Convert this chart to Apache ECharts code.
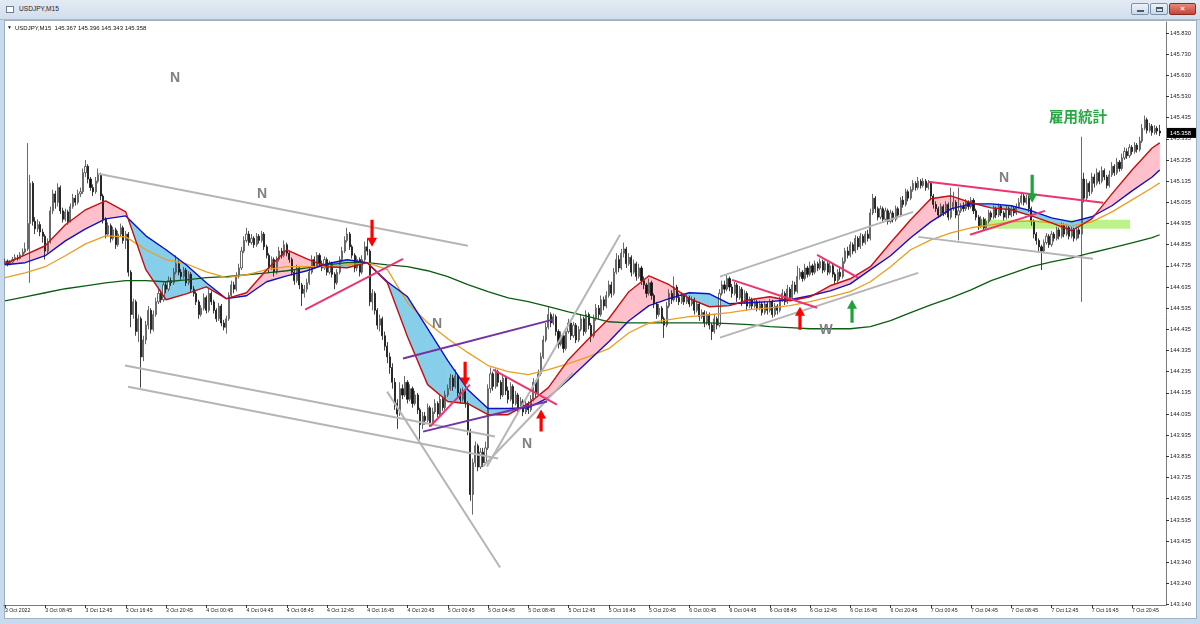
<!DOCTYPE html>
<html><head><meta charset="utf-8">
<script src="https://cdn.jsdelivr.net/npm/echarts@6/dist/echarts.min.js"></script>
<style>
html,body{margin:0;padding:0;}
body{width:1200px;height:624px;overflow:hidden;background:#c7daee;position:relative;font-family:"Liberation Sans",Arial,sans-serif;}
#title{position:absolute;left:0;top:0;width:1200px;height:20px;background:linear-gradient(#e3ebf5,#d2deeb);border-bottom:1px solid #a9b8ca;box-sizing:border-box;}
#title .ico{position:absolute;left:6px;top:6px;width:8px;height:7px;border:1px solid #6a7d95;background:#fff;box-sizing:border-box;}
#title .txt{position:absolute;left:19px;top:5px;font-size:6.6px;color:#1b2430;}
.btn{position:absolute;top:3px;height:12px;border:1px solid #8092aa;border-radius:2px;box-sizing:border-box;background:linear-gradient(#eef3f9,#cdd9e7);}
#panel{position:absolute;left:4px;top:20px;width:1193px;height:599px;background:#fff;border:1px solid #9fb0c4;box-sizing:border-box;}
#chart{position:absolute;left:0;top:0;width:1200px;height:624px;}
</style></head>
<body>
<div id="title"><div class="ico"></div><div class="txt">USDJPY,M15</div>
<div class="btn" style="left:1131px;width:18px"><div style="position:absolute;left:5px;top:6px;width:7px;height:2px;background:#4a5a70"></div></div>
<div class="btn" style="left:1150px;width:18px"><div style="position:absolute;left:5px;top:3px;width:7px;height:5px;border:1px solid #4a5a70;border-top-width:2px;box-sizing:border-box"></div></div>
<div class="btn" style="left:1169px;width:27px;background:linear-gradient(#e48a7a,#c8453a);border-color:#8d2a22;color:#fff;font-size:8px;text-align:center;line-height:10px;font-weight:bold">×</div>
</div>
<div id="panel"></div>
<div id="chart"></div>
<script>
// ---------- DATA ----------
const symbolName = 'USDJPY,M15';
const xTickLabels = ["3 Oct 2022","3 Oct 08:45","3 Oct 12:45","3 Oct 16:45","3 Oct 20:45","4 Oct 00:45","4 Oct 04:45","4 Oct 08:45","4 Oct 12:45","4 Oct 16:45","4 Oct 20:45","5 Oct 00:45","5 Oct 04:45","5 Oct 08:45","5 Oct 12:45","5 Oct 16:45","5 Oct 20:45","6 Oct 00:45","6 Oct 04:45","6 Oct 08:45","6 Oct 12:45","6 Oct 16:45","6 Oct 20:45","7 Oct 00:45","7 Oct 04:45","7 Oct 08:45","7 Oct 12:45","7 Oct 16:45","7 Oct 20:45"];
const yTickLabels = ["145.830","145.730","145.630","145.530","145.435","145.335","145.235","145.135","145.035","144.935","144.835","144.735","144.635","144.535","144.435","144.335","144.235","144.135","144.035","143.935","143.835","143.735","143.635","143.535","143.435","143.340","143.240","143.140"];

// M15 candles [open, close, low, high], first bar 3 Oct 04:45
const bars = [
[144.745,144.752,144.735,144.765],[144.752,144.740,144.728,144.760],[144.740,144.748,144.732,144.758],[144.748,144.760,144.741,144.772],[144.760,144.770,144.752,144.785],[144.770,144.765,144.755,144.782],[144.765,144.782,144.760,144.795],[144.782,144.795,144.775,144.812],
[144.795,144.810,144.788,144.840],[144.810,144.930,144.800,145.310],[144.930,145.120,144.650,145.160],[145.120,144.940,144.920,145.130],[144.940,144.905,144.880,144.960],[144.905,144.925,144.890,144.950],[144.925,144.890,144.870,144.940],[144.890,144.870,144.840,144.905],
[144.870,144.800,144.760,144.880],[144.800,144.845,144.790,144.860],[144.845,144.990,144.835,145.010],[144.990,145.070,144.975,145.090],[145.070,145.030,145.000,145.085],[145.030,145.100,145.010,145.120],[145.100,144.990,144.975,145.110],[144.990,144.950,144.935,145.005],
[144.950,144.985,144.940,145.000],[144.985,144.940,144.925,144.995],[144.940,145.010,144.935,145.025],[145.010,145.050,145.000,145.070],[145.050,145.030,145.015,145.065],[145.030,145.070,145.020,145.090],[145.070,145.080,145.055,145.100],[145.080,145.170,145.070,145.190],
[145.170,145.200,145.150,145.230],[145.200,145.140,145.120,145.210],[145.140,145.100,145.085,145.150],[145.100,145.080,145.060,145.115],[145.080,145.130,145.070,145.150],[145.130,145.160,145.120,145.190],[145.160,145.060,145.040,145.170],[145.060,144.950,144.930,145.070],
[144.950,144.880,144.860,144.960],[144.880,144.920,144.870,144.935],[144.920,144.860,144.840,144.930],[144.860,144.900,144.850,144.915],[144.900,144.830,144.810,144.910],[144.830,144.880,144.820,144.895],[144.880,144.910,144.870,144.930],[144.910,144.850,144.835,144.920],
[144.850,144.880,144.810,144.895],[144.880,144.700,144.680,144.890],[144.700,144.500,144.440,144.710],[144.500,144.560,144.480,144.575],[144.560,144.420,144.400,144.570],[144.420,144.480,144.370,144.500],[144.480,144.300,144.155,144.490],[144.300,144.380,144.280,144.400],
[144.380,144.450,144.360,144.470],[144.450,144.520,144.430,144.540],[144.520,144.430,144.410,144.530],[144.430,144.500,144.420,144.520],[144.500,144.560,144.490,144.580],[144.560,144.600,144.550,144.620],[144.600,144.570,144.555,144.615],[144.570,144.640,144.560,144.655],
[144.640,144.620,144.600,144.655],[144.620,144.660,144.610,144.680],[144.660,144.650,144.635,144.675],[144.650,144.700,144.640,144.720],[144.700,144.740,144.690,144.780],[144.740,144.700,144.685,144.755],[144.700,144.680,144.665,144.715],[144.680,144.710,144.670,144.725],
[144.710,144.650,144.635,144.720],[144.650,144.690,144.640,144.705],[144.690,144.620,144.605,144.700],[144.620,144.600,144.585,144.635],[144.600,144.560,144.545,144.610],[144.560,144.500,144.480,144.570],[144.500,144.530,144.490,144.545],[144.530,144.580,144.520,144.600],
[144.580,144.520,144.505,144.590],[144.520,144.600,144.510,144.620],[144.600,144.560,144.545,144.610],[144.560,144.520,144.505,144.570],[144.520,144.480,144.465,144.530],[144.480,144.540,144.470,144.555],[144.540,144.460,144.445,144.550],[144.460,144.440,144.425,144.475],
[144.440,144.480,144.410,144.495],[144.480,144.590,144.470,144.605],[144.590,144.640,144.580,144.660],[144.640,144.620,144.600,144.655],[144.620,144.680,144.610,144.700],[144.680,144.720,144.670,144.740],[144.720,144.800,144.710,144.820],[144.800,144.850,144.790,144.870],
[144.850,144.880,144.840,144.910],[144.880,144.840,144.825,144.895],[144.840,144.860,144.830,144.880],[144.860,144.830,144.815,144.870],[144.830,144.870,144.820,144.885],[144.870,144.850,144.835,144.880],[144.850,144.880,144.840,144.895],[144.880,144.820,144.805,144.890],
[144.820,144.780,144.765,144.830],[144.780,144.720,144.700,144.790],[144.720,144.760,144.710,144.775],[144.760,144.700,144.680,144.770],[144.700,144.760,144.690,144.775],[144.760,144.800,144.750,144.820],[144.800,144.780,144.765,144.815],[144.780,144.830,144.770,144.850],
[144.830,144.790,144.775,144.840],[144.790,144.760,144.745,144.800],[144.760,144.700,144.685,144.770],[144.700,144.660,144.640,144.710],[144.660,144.720,144.650,144.735],[144.720,144.640,144.620,144.730],[144.640,144.600,144.540,144.650],[144.600,144.620,144.580,144.640],
[144.620,144.650,144.605,144.670],[144.650,144.700,144.640,144.720],[144.700,144.760,144.690,144.780],[144.760,144.730,144.715,144.775],[144.730,144.780,144.720,144.795],[144.780,144.740,144.725,144.790],[144.740,144.720,144.705,144.755],[144.720,144.760,144.710,144.775],
[144.760,144.700,144.685,144.770],[144.700,144.740,144.690,144.755],[144.740,144.690,144.675,144.750],[144.690,144.650,144.620,144.700],[144.650,144.700,144.640,144.715],[144.700,144.760,144.690,144.775],[144.760,144.800,144.750,144.820],[144.800,144.850,144.790,144.870],
[144.850,144.880,144.840,144.910],[144.880,144.820,144.805,144.890],[144.820,144.780,144.765,144.830],[144.780,144.720,144.700,144.790],[144.720,144.760,144.705,144.775],[144.760,144.700,144.680,144.770],[144.700,144.760,144.690,144.780],[144.760,144.820,144.750,144.845],
[144.820,144.800,144.780,144.860],[144.800,144.560,144.540,144.810],[144.560,144.600,144.520,144.620],[144.600,144.520,144.500,144.610],[144.520,144.450,144.430,144.530],[144.450,144.480,144.420,144.500],[144.480,144.400,144.380,144.490],[144.400,144.350,144.330,144.420],
[144.350,144.300,144.270,144.370],[144.300,144.250,144.220,144.320],[144.250,144.180,144.150,144.270],[144.180,144.080,144.050,144.200],[144.080,144.030,143.960,144.100],[144.030,144.150,144.020,144.180],[144.150,144.120,144.100,144.170],[144.120,144.180,144.110,144.210],
[144.180,144.100,144.080,144.190],[144.100,144.150,144.090,144.170],[144.150,144.080,144.060,144.160],[144.080,144.120,144.070,144.140],[144.120,144.050,144.030,144.130],[144.050,143.980,143.910,144.060],[143.980,144.020,143.960,144.040],[144.020,144.000,143.980,144.040],
[144.000,144.060,143.990,144.080],[144.060,143.990,143.970,144.070],[143.990,144.040,143.980,144.060],[144.040,144.080,144.030,144.100],[144.080,144.030,144.015,144.090],[144.030,144.100,144.020,144.120],[144.100,144.060,144.045,144.110],[144.060,144.120,144.050,144.140],
[144.120,144.150,144.110,144.170],[144.150,144.200,144.140,144.220],[144.200,144.160,144.140,144.215],[144.160,144.210,144.150,144.240],[144.210,144.130,144.110,144.220],[144.130,144.100,144.080,144.150],[144.100,144.140,144.090,144.155],[144.140,144.080,144.060,144.150],
[144.080,143.950,143.930,144.090],[143.950,143.650,143.620,143.960],[143.650,143.800,143.555,143.820],[143.800,143.880,143.780,143.900],[143.880,143.780,143.760,143.890],[143.780,143.850,143.770,143.870],[143.850,143.800,143.780,143.870],[143.800,143.870,143.790,143.900],
[143.870,144.150,143.860,144.170],[144.150,144.220,144.130,144.250],[144.220,144.160,144.140,144.230],[144.160,144.230,144.150,144.245],[144.230,144.180,144.160,144.240],[144.180,144.120,144.100,144.190],[144.120,144.200,144.110,144.215],[144.200,144.140,144.120,144.210],
[144.140,144.100,144.080,144.160],[144.100,144.160,144.090,144.180],[144.160,144.080,144.060,144.170],[144.080,144.120,144.070,144.140],[144.120,144.060,144.040,144.130],[144.060,144.090,144.050,144.110],[144.090,144.040,144.020,144.100],[144.040,144.080,144.030,144.095],
[144.080,144.050,144.030,144.090],[144.050,144.100,144.040,144.120],[144.100,144.180,144.090,144.200],[144.180,144.130,144.110,144.190],[144.130,144.220,144.120,144.240],[144.220,144.300,144.210,144.320],[144.300,144.380,144.290,144.400],[144.380,144.440,144.370,144.460],
[144.440,144.500,144.430,144.540],[144.500,144.460,144.440,144.510],[144.460,144.490,144.450,144.505],[144.490,144.420,144.400,144.500],[144.420,144.360,144.340,144.430],[144.360,144.400,144.350,144.420],[144.400,144.340,144.320,144.410],[144.340,144.420,144.330,144.435],
[144.420,144.460,144.410,144.480],[144.460,144.400,144.380,144.470],[144.400,144.450,144.390,144.465],[144.450,144.380,144.365,144.460],[144.380,144.430,144.370,144.445],[144.430,144.480,144.420,144.500],[144.480,144.420,144.400,144.490],[144.420,144.500,144.410,144.520],
[144.500,144.450,144.430,144.510],[144.450,144.400,144.370,144.460],[144.400,144.480,144.390,144.500],[144.480,144.530,144.470,144.550],[144.530,144.500,144.480,144.545],[144.500,144.570,144.490,144.590],[144.570,144.540,144.520,144.585],[144.540,144.590,144.530,144.610],
[144.590,144.640,144.580,144.660],[144.640,144.600,144.580,144.655],[144.600,144.700,144.590,144.720],[144.700,144.760,144.690,144.790],[144.760,144.720,144.700,144.780],[144.720,144.790,144.710,144.810],[144.790,144.810,144.770,144.840],[144.810,144.740,144.720,144.820],
[144.740,144.770,144.730,144.790],[144.770,144.700,144.680,144.780],[144.700,144.740,144.690,144.760],[144.740,144.680,144.660,144.750],[144.680,144.720,144.670,144.740],[144.720,144.660,144.640,144.730],[144.660,144.640,144.620,144.680],[144.640,144.600,144.580,144.650],
[144.600,144.650,144.590,144.670],[144.650,144.590,144.570,144.660],[144.590,144.550,144.530,144.600],[144.550,144.500,144.480,144.560],[144.500,144.530,144.490,144.550],[144.530,144.480,144.460,144.540],[144.480,144.450,144.390,144.490],[144.450,144.540,144.440,144.560],
[144.540,144.600,144.530,144.620],[144.600,144.570,144.550,144.615],[144.570,144.630,144.560,144.680],[144.630,144.580,144.560,144.640],[144.580,144.560,144.545,144.600],[144.560,144.590,144.550,144.605],[144.590,144.560,144.545,144.600],[144.560,144.580,144.550,144.595],
[144.580,144.550,144.535,144.590],[144.550,144.570,144.540,144.585],[144.570,144.520,144.500,144.580],[144.520,144.550,144.510,144.565],[144.550,144.490,144.470,144.560],[144.490,144.510,144.480,144.525],[144.510,144.460,144.440,144.520],[144.460,144.500,144.450,144.515],
[144.500,144.450,144.430,144.510],[144.450,144.420,144.380,144.460],[144.420,144.480,144.410,144.500],[144.480,144.450,144.430,144.490],[144.450,144.600,144.440,144.620],[144.600,144.640,144.590,144.660],[144.640,144.620,144.600,144.660],[144.620,144.670,144.610,144.690],
[144.670,144.630,144.610,144.680],[144.630,144.600,144.580,144.645],[144.600,144.640,144.590,144.655],[144.640,144.580,144.560,144.650],[144.580,144.620,144.570,144.635],[144.620,144.560,144.540,144.630],[144.560,144.600,144.550,144.615],[144.600,144.540,144.520,144.610],
[144.540,144.570,144.530,144.585],[144.570,144.540,144.525,144.580],[144.540,144.560,144.530,144.575],[144.560,144.530,144.515,144.570],[144.530,144.550,144.520,144.565],[144.550,144.510,144.495,144.560],[144.510,144.550,144.500,144.565],[144.550,144.520,144.500,144.560],
[144.520,144.560,144.510,144.575],[144.560,144.500,144.485,144.570],[144.500,144.540,144.490,144.555],[144.540,144.520,144.500,144.550],[144.520,144.570,144.510,144.585],[144.570,144.600,144.560,144.620],[144.600,144.560,144.545,144.610],[144.560,144.620,144.550,144.640],
[144.620,144.580,144.565,144.630],[144.580,144.640,144.570,144.660],[144.640,144.610,144.595,144.655],[144.610,144.680,144.600,144.730],[144.680,144.700,144.665,144.720],[144.700,144.670,144.655,144.710],[144.670,144.720,144.660,144.740],[144.720,144.690,144.675,144.730],
[144.690,144.730,144.680,144.750],[144.730,144.700,144.685,144.740],[144.700,144.740,144.690,144.755],[144.740,144.720,144.705,144.750],[144.720,144.750,144.710,144.765],[144.750,144.710,144.695,144.760],[144.710,144.740,144.700,144.755],[144.740,144.700,144.685,144.750],
[144.700,144.730,144.690,144.745],[144.730,144.690,144.675,144.740],[144.690,144.660,144.645,144.700],[144.660,144.700,144.650,144.715],[144.700,144.680,144.665,144.720],[144.680,144.750,144.670,144.770],[144.750,144.800,144.740,144.815],[144.800,144.780,144.765,144.820],
[144.780,144.830,144.770,144.845],[144.830,144.800,144.785,144.840],[144.800,144.860,144.790,144.875],[144.860,144.820,144.805,144.870],[144.820,144.870,144.810,144.885],[144.870,144.840,144.825,144.880],[144.840,144.880,144.830,144.895],[144.880,144.860,144.845,144.900],
[144.860,144.980,144.850,145.000],[144.980,145.050,144.970,145.070],[145.050,145.000,144.980,145.060],[145.000,144.960,144.945,145.010],[144.960,145.000,144.950,145.015],[145.000,144.950,144.935,145.010],[144.950,144.990,144.940,145.005],[144.990,144.940,144.925,145.000],
[144.940,144.980,144.930,144.995],[144.980,144.950,144.935,144.990],[144.950,145.000,144.940,145.015],[145.000,144.970,144.955,145.010],[144.970,145.040,144.960,145.055],[145.040,145.020,145.005,145.060],[145.020,145.080,145.010,145.095],[145.080,145.050,145.035,145.090],
[145.050,145.090,145.040,145.105],[145.090,145.120,145.080,145.135],[145.120,145.100,145.085,145.130],[145.100,145.130,145.090,145.150],[145.130,145.110,145.095,145.140],[145.110,145.130,145.100,145.145],[145.130,145.100,145.085,145.140],[145.100,145.120,145.090,145.135],
[145.120,145.060,145.040,145.130],[145.060,145.020,145.000,145.070],[145.020,145.000,144.985,145.035],[145.000,144.970,144.955,145.010],[144.970,145.010,144.960,145.025],[145.010,144.980,144.965,145.020],[144.980,145.020,144.970,145.035],[145.020,144.960,144.945,145.030],
[144.960,145.000,144.950,145.100],[145.000,145.030,144.990,145.080],[145.030,144.970,144.955,145.040],[144.970,144.990,144.850,145.100],[144.990,145.010,144.980,145.025],[145.010,145.000,144.985,145.030],[145.000,145.030,144.990,145.045],[145.030,145.010,144.995,145.040],
[145.010,145.040,145.000,145.055],[145.040,144.990,144.975,145.050],[144.990,144.960,144.945,145.000],[144.960,144.920,144.900,144.970],[144.920,144.950,144.910,144.965],[144.950,144.910,144.895,144.960],[144.910,144.940,144.900,144.955],[144.940,144.980,144.930,144.995],
[144.980,144.960,144.945,144.990],[144.960,145.000,144.950,145.015],[145.000,144.970,144.955,145.010],[144.970,145.010,144.960,145.025],[145.010,144.980,144.965,145.020],[144.980,144.960,144.945,144.990],[144.960,145.000,144.950,145.015],[145.000,144.970,144.955,145.010],
[144.970,145.000,144.960,145.015],[145.000,144.980,144.965,145.010],[144.980,145.010,144.970,145.025],[145.010,145.030,145.000,145.050],[145.030,145.060,145.020,145.080],[145.060,145.030,145.015,145.070],[145.030,145.050,145.020,145.065],[145.050,145.000,144.985,145.060],
[145.000,144.940,144.920,145.010],[144.940,144.880,144.860,144.950],[144.880,144.850,144.830,144.890],[144.850,144.820,144.800,144.860],[144.820,144.800,144.710,144.830],[144.800,144.840,144.790,144.855],[144.840,144.870,144.830,144.885],[144.870,144.830,144.815,144.880],
[144.830,144.880,144.820,144.895],[144.880,144.860,144.845,144.890],[144.860,144.900,144.850,144.915],[144.900,144.870,144.855,144.910],[144.870,144.920,144.860,144.935],[144.920,144.880,144.865,144.930],[144.880,144.910,144.870,144.925],[144.910,144.870,144.855,144.920],
[144.870,144.900,144.860,144.915],[144.900,144.860,144.845,144.910],[144.860,144.900,144.850,144.915],[144.900,144.880,144.860,144.910],[144.880,145.140,144.560,145.340],[145.140,145.050,145.030,145.170],[145.050,145.120,145.040,145.140],[145.120,145.080,145.060,145.130],
[145.080,145.150,145.070,145.170],[145.150,145.120,145.100,145.165],[145.120,145.170,145.110,145.190],[145.170,145.130,145.115,145.180],[145.130,145.180,145.120,145.200],[145.180,145.150,145.135,145.190],[145.150,145.110,145.095,145.160],[145.110,145.160,145.100,145.180],
[145.160,145.200,145.150,145.220],[145.200,145.170,145.155,145.210],[145.170,145.220,145.160,145.240],[145.220,145.190,145.175,145.230],[145.190,145.240,145.180,145.260],[145.240,145.270,145.230,145.290],[145.270,145.250,145.235,145.285],[145.250,145.290,145.240,145.305],
[145.290,145.270,145.255,145.300],[145.270,145.300,145.260,145.315],[145.300,145.280,145.265,145.310],[145.280,145.320,145.270,145.340],[145.320,145.380,145.310,145.400],[145.380,145.420,145.370,145.440],[145.420,145.370,145.355,145.430],[145.370,145.390,145.360,145.405],
[145.390,145.360,145.345,145.400],[145.360,145.380,145.350,145.395],[145.380,145.367,145.350,145.390],[145.367,145.358,145.343,145.396]
];

const maBars = [0,8,16,24,32,40,48,56,64,72,80,88,96,104,112,120,128,136,144,152,160,168,176,184,192,200,208,216,224,232,240,248,256,264,272,280,288,296,304,312,320,328,336,344,352,360,368,376,384,392,400,408,416,424,432,440,448,456,459];
const maRed = [144.740,144.782,144.825,144.924,144.995,145.037,144.985,144.712,144.570,144.598,144.631,144.575,144.603,144.712,144.806,144.763,144.726,144.721,144.745,144.650,144.395,144.169,144.089,144.079,144.027,144.027,144.079,144.155,144.287,144.386,144.480,144.608,144.683,144.641,144.575,144.537,144.542,144.570,144.584,144.565,144.584,144.636,144.669,144.726,144.839,144.948,145.047,145.061,145.028,145.004,144.995,144.966,144.933,144.896,144.952,145.070,145.183,145.287,145.311];
const maBlue = [144.735,144.745,144.778,144.848,144.905,144.952,144.966,144.872,144.806,144.735,144.650,144.575,144.589,144.655,144.683,144.707,144.740,144.759,144.745,144.655,144.584,144.433,144.282,144.145,144.056,144.056,144.060,144.108,144.192,144.282,144.372,144.471,144.542,144.575,144.603,144.598,144.551,144.556,144.561,144.570,144.589,144.612,144.645,144.712,144.778,144.863,144.938,144.999,145.023,145.023,145.014,144.990,144.957,144.938,144.962,145.014,145.084,145.150,145.183];
const maOrange = [144.674,144.697,144.726,144.778,144.834,144.872,144.867,144.806,144.759,144.740,144.702,144.674,144.688,144.712,144.726,144.726,144.726,144.735,144.745,144.712,144.556,144.461,144.386,144.320,144.259,144.230,144.216,144.240,144.268,144.301,144.339,144.414,144.461,144.476,144.490,144.499,144.509,144.523,144.532,144.542,144.561,144.584,144.608,144.655,144.726,144.806,144.853,144.886,144.910,144.924,144.938,144.943,144.933,144.919,144.938,144.985,145.042,145.099,145.122];
const maGreen = [144.565,144.584,144.603,144.622,144.636,144.650,144.660,144.660,144.655,144.664,144.674,144.679,144.688,144.697,144.707,144.721,144.735,144.745,144.745,144.735,144.726,144.707,144.679,144.641,144.608,144.579,144.561,144.537,144.513,144.490,144.466,144.461,144.461,144.461,144.461,144.461,144.457,144.452,144.443,144.438,144.433,144.433,144.433,144.443,144.471,144.509,144.546,144.579,144.617,144.660,144.693,144.726,144.749,144.768,144.792,144.815,144.839,144.863,144.877];

// Drawn objects, in (bar, price) coordinates
const grayLines = [[37.0,145.165,184.0,144.825],[47.7,144.259,194.8,143.924],[48.9,144.159,196.0,143.820],[151.9,144.136,196.8,143.305],[191.6,143.782,244.5,144.877],[190.0,143.782,225.8,144.225],[284.2,144.679,361.0,144.985],[284.2,144.391,363.0,144.697],[363.0,144.867,432.5,144.764]];
const pinkLines = [[119.3,144.523,158.2,144.763],[169.0,143.971,184.8,144.169],[194.0,144.240,219.4,144.075],[289.0,144.664,322.8,144.532],[322.8,144.782,339.1,144.674],[366.9,145.127,436.5,145.028],[383.6,144.877,413.4,144.990]];
const purpleLines = [[158.2,144.292,217.8,144.476],[166.2,143.947,215.5,144.089]];
const zoneRect = [386.8,144.948,447.2,144.905];
const arrows = [[145.9,144.948,144.820,'#ff0000'],[182.9,144.277,144.160,'#ff0000'],[213.1,143.947,144.051,'#ff0000'],[316.0,144.428,144.537,'#ff0000'],[336.7,144.461,144.570,'#1fa23a'],[408.3,145.160,145.028,'#1fa23a']];
const labels = [['N',67.6,145.618,'#808080'],['N',102.2,145.070,'#808080'],['N',171.7,144.457,'#808080'],['N',207.5,143.890,'#808080'],['W',326.4,144.428,'#808080'],['N',397.1,145.146,'#808080'],['雇用統計',426.5,145.438,'#27a845']];

// ---------- CHART ----------
const SLOTS = bars.length + 2;
const startMs = Date.UTC(2022,9,3,4,45);
const categories = [];
for (let i = 0; i < SLOTS; i++) {
  const d = new Date(startMs + i * 900000);
  categories.push(d.getUTCDate() + ' Oct ' + String(d.getUTCHours()).padStart(2,'0') + ':' + String(d.getUTCMinutes()).padStart(2,'0'));
}
const yTickValues = yTickLabels.map((_, k) => +(145.83 - 0.1 * k).toFixed(3));
const tickEvery = (idx) => idx % 16 === 0;

const chart = echarts.init(document.getElementById('chart'), null, {renderer: 'canvas'});
const maPts = (arr) => maBars.map((b, k) => [b, arr[k]]);
const maLine = (name, arr, color, w) => ({
  name, type: 'line', xAxisIndex: 1, yAxisIndex: 0, data: maPts(arr), showSymbol: false, symbol: 'none',
  lineStyle: {color, width: w}, z: 5, silent: true, animation: false
});

const option = {
  animation: false,
  backgroundColor: 'transparent',
  grid: {left: 3.74, right: 34, top: 22, bottom: 19, containLabel: false},
  xAxis: [{
    type: 'category', data: categories, boundaryGap: true,
    axisLine: {show: true, onZero: false, lineStyle: {color: '#7a7a7a', width: 1}},
    axisTick: {show: true, alignWithLabel: true, interval: tickEvery, length: 3, lineStyle: {color: '#333'}},
    axisLabel: {show: true, interval: tickEvery, formatter: (v, idx) => xTickLabels[idx / 16] || '', align: 'left',
      fontSize: 5.2, color: '#222', margin: 3, fontFamily: 'Liberation Sans', hideOverlap: false},
    splitLine: {show: false}
  }, {
    type: 'value', min: -0.5, max: SLOTS - 0.5, show: false,
    axisLine: {show: false, onZero: false}, axisTick: {show: false}, axisLabel: {show: false}, splitLine: {show: false}
  }],
  yAxis: [{
    type: 'value', position: 'right', min: 143.128, max: 145.882, scale: true,
    axisLine: {show: true, onZero: false, lineStyle: {color: '#7a7a7a', width: 1}},
    axisTick: {show: true, customValues: yTickValues, length: 3, inside: false, lineStyle: {color: '#333'}},
    axisLabel: {show: true, customValues: yTickValues, fontSize: 5.8, color: '#222', margin: 4, fontFamily: 'Liberation Sans',
      formatter: (v) => yTickLabels[Math.round((145.83 - v) / 0.1)] || ''},
    splitLine: {show: false}
  }],
  series: [
    {
      type: 'custom', xAxisIndex: 1, yAxisIndex: 0, z: 1, silent: true,
      data: [zoneRect],
      renderItem: (params, api) => {
        const a = api.coord([api.value(0), api.value(1)]);
        const b = api.coord([api.value(2), api.value(3)]);
        return {type: 'rect', shape: {x: a[0], y: a[1], width: b[0] - a[0], height: b[1] - a[1]}, style: {fill: '#bdf28a'}};
      }
    },
    {
      type: 'custom', xAxisIndex: 1, yAxisIndex: 0, z: 2, silent: true,
      data: maBars.map((b, k) => [b, maRed[k], maBlue[k]]),
      renderItem: (params, api) => {
        const k = params.dataIndex;
        if (k >= maBars.length - 1) return null;
        const r0 = api.coord([maBars[k], maRed[k]]), r1 = api.coord([maBars[k + 1], maRed[k + 1]]);
        const b0 = api.coord([maBars[k], maBlue[k]]), b1 = api.coord([maBars[k + 1], maBlue[k + 1]]);
        const d0 = maRed[k] - maBlue[k], d1 = maRed[k + 1] - maBlue[k + 1];
        const PINK = '#ffc0cb', SKY = '#87ceeb';
        const poly = (pts, c) => ({type: 'polygon', shape: {points: pts}, style: {fill: c, stroke: c, lineWidth: 0.6}});
        if (d0 * d1 >= 0) {
          return poly([r0, r1, b1, b0], (d0 + d1) >= 0 ? PINK : SKY);
        }
        const t = d0 / (d0 - d1);
        const m = [r0[0] + t * (r1[0] - r0[0]), r0[1] + t * (r1[1] - r0[1])];
        return {type: 'group', children: [poly([r0, m, b0], d0 > 0 ? PINK : SKY), poly([m, r1, b1], d1 > 0 ? PINK : SKY)]};
      }
    },
    {
      type: 'candlestick', xAxisIndex: 0, yAxisIndex: 0, data: bars, z: 3, barWidth: 1.6, silent: true,
      itemStyle: {color: '#ffffff', color0: '#111111', borderColor: '#444444', borderColor0: '#111111', borderWidth: 0.8}
    },
    maLine('MA green', maGreen, '#0b5d12', 1.3),
    maLine('MA orange', maOrange, '#eb9d22', 1.3),
    maLine('MA blue', maBlue, '#1010c8', 1.4),
    maLine('MA red', maRed, '#c41010', 1.4)
  ]
};
chart.setOption(option);

// annotations placed through the axes
const X = (i) => chart.convertToPixel({xAxisIndex: 1}, i);
const Y = (p) => chart.convertToPixel({yAxisIndex: 0}, p);
const g = [];
const addLines = (list, color) => list.forEach(l => g.push({type: 'line', z: 50, silent: true,
  shape: {x1: X(l[0]), y1: Y(l[1]), x2: X(l[2]), y2: Y(l[3])}, style: {stroke: color, lineWidth: 2}}));
addLines(grayLines, '#b5b5b5');
addLines(pinkLines, '#ec3470');
addLines(purpleLines, '#7232a4');
arrows.forEach(a => {
  const x = X(a[0]), yt = Y(a[1]), yh = Y(a[2]);
  const dir = yh > yt ? 1 : -1;
  const hl = 9 * dir, sw = 1.6, hw = 5;
  g.push({type: 'polygon', z: 60, silent: true, shape: {points: [
    [x - sw, yt], [x + sw, yt], [x + sw, yh - hl], [x + hw, yh - hl], [x, yh], [x - hw, yh - hl], [x - sw, yh - hl]
  ]}, style: {fill: a[3]}});
});
labels.forEach(t => {
  const big = t[0].length > 1;
  g.push({type: 'text', z: 60, silent: true, x: X(t[1]), y: Y(t[2]), style: {
    text: t[0], fill: t[3], fontSize: big ? 14.5 : 14, fontWeight: 'bold',
    fontFamily: big ? '"Noto Sans CJK JP"' : '"Liberation Sans"', align: 'center', verticalAlign: 'middle',
    textAlign: 'center', textVerticalAlign: 'middle'}});
});
// header line and current price label
const last = bars[bars.length - 1];
const hdr = symbolName + '  ' + [last[0], last[3], last[2], last[1]].map(v => v.toFixed(3)).join(' ');
g.push({type: 'text', z: 60, silent: true, x: 7, y: 28, style: {text: '\u25BC', fill: '#111', fontSize: 5, verticalAlign: 'middle', textVerticalAlign: 'middle'}});
g.push({type: 'text', z: 60, silent: true, x: 15, y: 28, style: {text: hdr, fill: '#111', fontSize: 6, fontFamily: '"Liberation Sans"', verticalAlign: 'middle', textVerticalAlign: 'middle'}});
const py = Y(last[1]);
g.push({type: 'rect', z: 60, silent: true, shape: {x: 1167, y: py - 5, width: 29, height: 10}, style: {fill: '#000'}});
g.push({type: 'text', z: 61, silent: true, x: 1170, y: py, style: {text: last[1].toFixed(3), fill: '#fff', fontSize: 5.8, fontFamily: '"Liberation Sans"', verticalAlign: 'middle', textVerticalAlign: 'middle'}});
chart.setOption({graphic: {elements: g}});
</script>
</body></html>
